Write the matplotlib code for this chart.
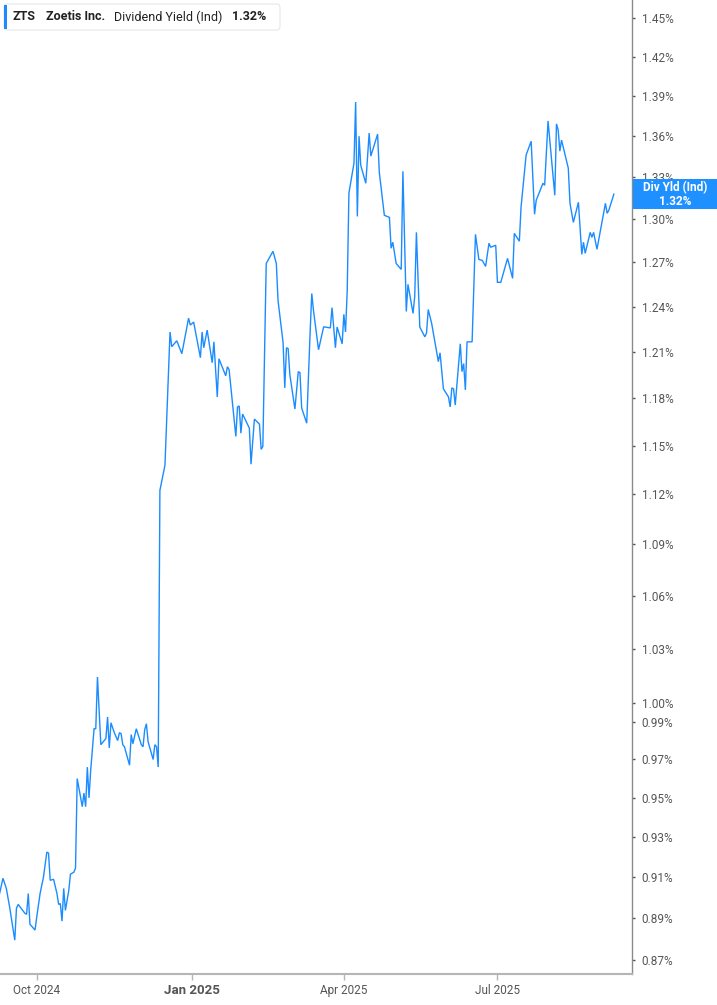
import matplotlib
matplotlib.use("Agg")
import matplotlib.pyplot as plt
import matplotlib.ticker as mticker
import matplotlib.dates as mdates
from matplotlib.patches import FancyBboxPatch, Rectangle
import pandas as pd

plt.rcParams['font.family'] = ['Roboto', 'DejaVu Sans']

# ---------------- data ----------------
dates = [
    "2024-09-09", "2024-09-11", "2024-09-13", "2024-09-15", "2024-09-18", "2024-09-19", "2024-09-20",
    "2024-09-24", "2024-09-25", "2024-09-26", "2024-09-27", "2024-09-28", "2024-09-30",
    "2024-10-01", "2024-10-03", "2024-10-05", "2024-10-07", "2024-10-08", "2024-10-09", "2024-10-11",
    "2024-10-13", "2024-10-14", "2024-10-15", "2024-10-16", "2024-10-17", "2024-10-18", "2024-10-20",
    "2024-10-21", "2024-10-23", "2024-10-24", "2024-10-25", "2024-10-28", "2024-10-29", "2024-10-30",
    "2024-10-31", "2024-11-01", "2024-11-02", "2024-11-04", "2024-11-05", "2024-11-06", "2024-11-08",
    "2024-11-10", "2024-11-11", "2024-11-12", "2024-11-13", "2024-11-14", "2024-11-16", "2024-11-18",
    "2024-11-19", "2024-11-20", "2024-11-21", "2024-11-22", "2024-11-25", "2024-11-26", "2024-11-27",
    "2024-11-29", "2024-12-02", "2024-12-03", "2024-12-04", "2024-12-05", "2024-12-06", "2024-12-09",
    "2024-12-10", "2024-12-11", "2024-12-12", "2024-12-13", "2024-12-16", "2024-12-19", "2024-12-20",
    "2024-12-23", "2024-12-26", "2024-12-30", "2024-12-31",
    "2025-01-02", "2025-01-06", "2025-01-07", "2025-01-08", "2025-01-10", "2025-01-13", "2025-01-14",
    "2025-01-16", "2025-01-17", "2025-01-21", "2025-01-22", "2025-01-23", "2025-01-27", "2025-01-28",
    "2025-01-29", "2025-01-30", "2025-01-31", "2025-02-04", "2025-02-05", "2025-02-07", "2025-02-10",
    "2025-02-11", "2025-02-12", "2025-02-14", "2025-02-18", "2025-02-20", "2025-02-21", "2025-02-24",
    "2025-02-25", "2025-02-26", "2025-02-27", "2025-02-28", "2025-03-03", "2025-03-05", "2025-03-06",
    "2025-03-07", "2025-03-10", "2025-03-12", "2025-03-13", "2025-03-14", "2025-03-17", "2025-03-20",
    "2025-03-21", "2025-03-24", "2025-03-25", "2025-03-27", "2025-03-28", "2025-03-31", "2025-04-01",
    "2025-04-02", "2025-04-03", "2025-04-04", "2025-04-07", "2025-04-08", "2025-04-09", "2025-04-10",
    "2025-04-11", "2025-04-14", "2025-04-16", "2025-04-17", "2025-04-21", "2025-04-22", "2025-04-25",
    "2025-04-28", "2025-04-29", "2025-04-30", "2025-05-02", "2025-05-05", "2025-05-06", "2025-05-08",
    "2025-05-09", "2025-05-12", "2025-05-13", "2025-05-14", "2025-05-16", "2025-05-19", "2025-05-20",
    "2025-05-21", "2025-05-23", "2025-05-27", "2025-05-28", "2025-05-30", "2025-06-02", "2025-06-03",
    "2025-06-04", "2025-06-05", "2025-06-06", "2025-06-09", "2025-06-10", "2025-06-11", "2025-06-12",
    "2025-06-13", "2025-06-16", "2025-06-18", "2025-06-20", "2025-06-22", "2025-06-24", "2025-06-26",
    "2025-06-27", "2025-06-30", "2025-07-01", "2025-07-03", "2025-07-07", "2025-07-10", "2025-07-11",
    "2025-07-14", "2025-07-15", "2025-07-18", "2025-07-21", "2025-07-23", "2025-07-24", "2025-07-28",
    "2025-07-29", "2025-07-31", "2025-08-04", "2025-08-05", "2025-08-06", "2025-08-07", "2025-08-08",
    "2025-08-12", "2025-08-13", "2025-08-15", "2025-08-18", "2025-08-20", "2025-08-21", "2025-08-22",
    "2025-08-25", "2025-08-26", "2025-08-27", "2025-08-29", "2025-09-02", "2025-09-03", "2025-09-04",
    "2025-09-05", "2025-09-08",
]

div_yield = [
    0.902, 0.9095, 0.9045, 0.8952, 0.8795, 0.8948, 0.8967,
    0.8924, 0.8919, 0.902, 0.8871, 0.8862, 0.8843,
    0.8905, 0.902, 0.910, 0.9225, 0.922, 0.9085, 0.909,
    0.902, 0.8967, 0.8971, 0.8886, 0.9045, 0.8938, 0.9035,
    0.9115, 0.9125, 0.9145, 0.960, 0.9455, 0.9525, 0.9455,
    0.966, 0.950, 0.9645, 0.9863, 0.9863, 1.0144, 0.9778,
    0.980, 0.9811, 0.9926, 0.9761, 0.9895, 0.9842, 0.980,
    0.9842, 0.9837, 0.9778, 0.9767, 0.967, 0.9832, 0.9783,
    0.9863, 0.9778, 0.9767, 0.9858, 0.989, 0.9794, 0.970,
    0.9778, 0.9767, 0.966, 1.1224, 1.1378, 1.223, 1.2133,
    1.2172, 1.2087, 1.2322, 1.2276,
    1.2296, 1.2061, 1.223, 1.2126, 1.2243, 1.2028, 1.2165,
    1.1807, 1.2054, 1.1943, 1.2002, 1.1983, 1.1557, 1.1743,
    1.1749, 1.1577, 1.1698, 1.1609, 1.1384, 1.1666, 1.1634,
    1.1476, 1.1494, 1.2693, 1.2777, 1.2693, 1.2441, 1.2159,
    1.1865, 1.2126, 1.212, 1.195, 1.173, 1.197, 1.1963,
    1.1736, 1.164, 1.2224, 1.2488, 1.2374, 1.2113, 1.2263,
    1.2263, 1.2257, 1.2393, 1.2126, 1.2263, 1.2152, 1.2348,
    1.223, 1.2509, 1.3186, 1.3402, 1.3854, 1.3021, 1.360,
    1.3388, 1.3257, 1.3623, 1.3454, 1.3615, 1.3337, 1.3029,
    1.3014, 1.2798, 1.284, 1.2693, 1.2652, 1.3343, 1.2367,
    1.255, 1.2354, 1.2468, 1.2909, 1.2263, 1.2198, 1.2224,
    1.238, 1.2289, 1.2035, 1.2093, 1.1859, 1.1807, 1.1743,
    1.1865, 1.1859, 1.1755, 1.2152, 1.197, 1.2022, 1.1852,
    1.2165, 1.2165, 1.2895, 1.2721, 1.2714, 1.2673, 1.2833,
    1.2805, 1.2819, 1.2564, 1.2564, 1.2728, 1.2591, 1.2902,
    1.2847, 1.3086, 1.3461, 1.3563, 1.3036, 1.3136, 1.3257,
    1.3243, 1.3713, 1.3171, 1.3691, 1.3646, 1.349, 1.3571,
    1.3366, 1.3114, 1.2979, 1.3121, 1.2756, 1.284, 1.2763,
    1.2909, 1.2874, 1.2909, 1.2791, 1.305, 1.3114, 1.3043,
    1.3064, 1.3179,
]

ticker_symbol = "ZTS"
company_name = "Zoetis Inc."
metric_name = "Dividend Yield (Ind)"
tag_title = "Div Yld (Ind)"
last_value_text = "1.32%"

y_ticks = [0.87, 0.89, 0.91, 0.93, 0.95, 0.97, 0.99, 1.00, 1.03, 1.06, 1.09, 1.12,
           1.15, 1.18, 1.21, 1.24, 1.27, 1.30, 1.33, 1.36, 1.39, 1.42, 1.45]
y_tick_labels = [f"{v:.2f}%" for v in y_ticks]
x_tick_dates = ["2024-10-01", "2025-01-01", "2025-04-01", "2025-07-01"]
x_tick_labels = ["Oct 2024", "Jan 2025", "Apr 2025", "Jul 2025"]

# ---------------- figure ----------------
W, H = 717, 1005
LINE = "#1a8cff"
fig = plt.figure(figsize=(W / 100, H / 100), dpi=100)
fig.patch.set_facecolor("white")
ax = fig.add_axes([0, 1 - 974 / H, 632 / W, 974 / H])

x = pd.to_datetime(dates)
ax.plot(x, div_yield, color=LINE, lw=1.0, solid_joinstyle="miter")

ax.set_yscale("log")
ax.set_ylim(0.8635, 1.4642)
ax.set_xlim(pd.Timestamp("2024-09-09 06:00"), pd.Timestamp("2025-09-18 18:00"))

ax.yaxis.tick_right()
ax.yaxis.set_major_locator(mticker.FixedLocator(y_ticks))
ax.yaxis.set_major_formatter(mticker.FixedFormatter(y_tick_labels))
ax.yaxis.set_minor_locator(mticker.NullLocator())
ax.yaxis.set_minor_formatter(mticker.NullFormatter())
ax.tick_params(axis="y", which="major", length=2, width=1, color="#555555",
               labelsize=8.5, labelcolor="#555555", pad=5)

ax.set_xticks(pd.to_datetime(x_tick_dates))
ax.set_xticklabels(x_tick_labels)
ax.tick_params(axis="x", length=4, width=1, color="#b5b5b5",
               labelsize=8.5, labelcolor="#555555", pad=3)
jl = ax.get_xticklabels()[1]
jl.set_fontweight("bold")
jl.set_fontsize(9.5)

for s in ("left", "top"):
    ax.spines[s].set_visible(False)
ax.spines["right"].set_color("#8a8a8a")
ax.spines["right"].set_linewidth(1.0)
ax.spines["bottom"].set_color("#b5b5b5")
ax.spines["bottom"].set_linewidth(1.5)

# ---------------- header box ----------------
def fx(px):
    return px / W

def fy(py):
    return 1 - py / H

hdr = FancyBboxPatch((fx(4), fy(30)), fx(276), 26 / H,
                     boxstyle="round,pad=0,rounding_size=0.004",
                     transform=fig.transFigure, facecolor="white",
                     edgecolor="#e6e6e6", lw=0.8, zorder=5)
fig.patches.append(hdr)
fig.patches.append(Rectangle((fx(4), fy(29)), fx(3), 24 / H, transform=fig.transFigure,
                             facecolor=LINE, edgecolor="none", zorder=6))
ty = fy(17)
fig.text(fx(13), ty, ticker_symbol, fontsize=9, fontweight="bold", color="#222222", va="center", zorder=7)
fig.text(fx(46), ty, company_name, fontsize=9, fontweight="bold", color="#222222", va="center", zorder=7)
fig.text(fx(114), ty, metric_name, fontsize=9, color="#222222", va="center", zorder=7)
fig.text(fx(232), ty, last_value_text, fontsize=9, fontweight="bold", color="#222222", va="center", zorder=7)

# ---------------- last value tag ----------------
fig.canvas.draw()
yd = ax.transData.transform((mdates.date2num(x[-1]), float(div_yield[-1])))[1]
yc = fig.transFigure.inverted().transform((0, yd))[1]
tag_h = 30 / H
fig.patches.append(Rectangle((fx(633), yc - tag_h / 2), fx(84), tag_h, transform=fig.transFigure,
                             facecolor="#1e90ff", edgecolor="none", zorder=6))
fig.text(fx(675), yc + 6.5 / H, tag_title, fontsize=8.5, fontweight="bold", color="white",
         ha="center", va="center", zorder=7)
fig.text(fx(675), yc - 7 / H, last_value_text, fontsize=8.5, fontweight="bold", color="white",
         ha="center", va="center", zorder=7)

fig.savefig("out.png", dpi=100, facecolor="white")
